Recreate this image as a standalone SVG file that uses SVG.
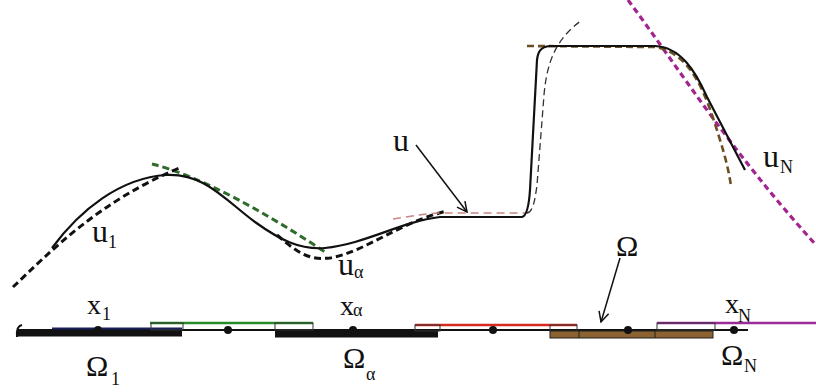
<svg xmlns="http://www.w3.org/2000/svg" width="816" height="392" viewBox="0 0 816 392">
<defs>
<style>
.t{font-family:"Liberation Serif","DejaVu Serif",serif;fill:#111}
.big{font-size:32px}
.om{font-size:30px}
.mid{font-size:28px}
.sub{font-size:18px}
.sol{fill:none;stroke:#111;stroke-width:2.2;stroke-linejoin:round}
.dk{fill:none;stroke:#111;stroke-width:3;stroke-dasharray:7 4}
.gr{fill:none;stroke:#2f6b2a;stroke-width:3;stroke-dasharray:7 4}
.br{fill:none;stroke:#6b4e22;stroke-width:2.6;stroke-dasharray:7 4}
.mg{fill:none;stroke:#a3248f;stroke-width:3.2;stroke-dasharray:6 4}
.pk{fill:none;stroke:#c98585;stroke-width:1.5;stroke-dasharray:8 5}
.thin{fill:none;stroke:#333;stroke-width:1.3;stroke-dasharray:7 4}
.arr{fill:none;stroke:#111;stroke-width:1.5}
.dot{fill:#111}
</style>
<marker id="ah" viewBox="0 0 12 12" refX="11" refY="6" markerWidth="12" markerHeight="12" markerUnits="userSpaceOnUse" orient="auto">
<path d="M1,1 L11,6 L1,11" fill="none" stroke="#111" stroke-width="1.5"/>
</marker>
</defs>
<rect width="816" height="392" fill="#fff"/>

<g id="curves">
<path class="mg" d="M628,0 C680,70 730,150 816,245"/>
<path class="gr" d="M152,164 C200,176 265,212 325,252"/>
<path class="dk" d="M13,287 C50,252 100,200 182,167"/>
<path class="dk" d="M277,235 C300,255 310,260 330,258 C365,252 400,222 447,211"/>
<path class="pk" d="M393,219 C415,216 425,213 445,213 L527,213"/>
<path class="thin" d="M527,213 C533,212 535,200 537,185 L544,95 C547,60 557,38 582,20"/>
<path class="br" d="M527,46 L655,47 C685,52 700,80 712,115 C722,145 728,165 731,186"/>
<path class="sol" d="M52,248 C80,210 120,178 166,175 C205,173 225,200 255,222 C280,240 300,250 325,248 C365,244 400,222 440,217 L522,217 C527,216 529,205 530,190 L537,60 C538,52 540,47 550,46 L655,46 C680,47 695,70 707,97 L745,170"/>
</g>

<g id="labels-u">
<text class="t big" x="92" y="242">u</text><text class="t sub" x="108" y="248">1</text>
<text class="t big" x="338" y="275">u</text><text class="t sub" x="354" y="278">α</text>
<text class="t big" x="393" y="151">u</text>
<text class="t big" x="763" y="167">u</text><text class="t sub" x="780" y="173">N</text>
<text class="t om" x="616" y="256">Ω</text>
</g>

<g id="connectors">
<path class="arr" d="M416,145 L467,212" marker-end="url(#ah)"/>
<path class="arr" d="M620,258 L601,322" marker-end="url(#ah)"/>
</g>

<g id="domains">
<line x1="17" y1="330" x2="748" y2="330" stroke="#111" stroke-width="2.2"/>
<path d="M22,325 Q16,326 17,337" fill="none" stroke="#111" stroke-width="2"/>
<g id="omega1">
<rect x="17" y="330" width="165" height="6.5" fill="#111"/>
<line x1="52" y1="328.5" x2="182" y2="328.5" stroke="#1a1f5e" stroke-width="2"/>
</g>
<g id="omega2">
<line x1="150" y1="323" x2="313" y2="323" stroke="#2a8a2a" stroke-width="2.5"/>
<rect x="151" y="323" width="32" height="7" fill="none" stroke="#333" stroke-width="1"/>
<rect x="275" y="323" width="38" height="7" fill="none" stroke="#333" stroke-width="1"/>
</g>
<g id="omegaA">
<rect x="275" y="331" width="163" height="6.5" fill="#111"/>
</g>
<g id="omega3">
<line x1="415" y1="325" x2="577" y2="325" stroke="#d62a20" stroke-width="2.5"/>
<rect x="415" y="325" width="25" height="6" fill="none" stroke="#333" stroke-width="1"/>
<rect x="550" y="325" width="27" height="6" fill="none" stroke="#333" stroke-width="1"/>
</g>
<g id="omega">
<rect x="550" y="331" width="163" height="7" fill="#8c6230" stroke="#222" stroke-width="1"/>
<line x1="579" y1="331" x2="579" y2="338" stroke="#222" stroke-width="1"/>
<line x1="655" y1="331" x2="655" y2="338" stroke="#222" stroke-width="1"/>
</g>
<g id="omegaN">
<line x1="657" y1="323" x2="816" y2="323" stroke="#9b2a9b" stroke-width="2.5"/>
<rect x="657" y="323" width="58" height="7" fill="none" stroke="#333" stroke-width="1"/>
</g>
<circle class="dot" cx="98" cy="330" r="4"/>
<circle class="dot" cx="228" cy="330" r="4"/>
<circle class="dot" cx="353" cy="330" r="4"/>
<circle class="dot" cx="493" cy="330" r="4"/>
<circle class="dot" cx="628" cy="330" r="4"/>
<circle class="dot" cx="734" cy="330" r="4"/>
</g>

<g id="labels-x">
<text class="t mid" x="87" y="314">x</text><text class="t sub" x="102" y="320">1</text>
<text class="t mid" x="340" y="315">x</text><text class="t sub" x="353" y="316">α</text>
<text class="t mid" x="725" y="313">x</text><text class="t sub" x="738" y="322">N</text>
<text class="t om" x="86" y="376">Ω</text><text class="t sub" x="111" y="385">1</text>
<text class="t om" x="343" y="368">Ω</text><text class="t sub" x="366" y="380">α</text>
<text class="t om" x="721" y="365">Ω</text><text class="t sub" x="744" y="372">N</text>
</g>
</svg>
